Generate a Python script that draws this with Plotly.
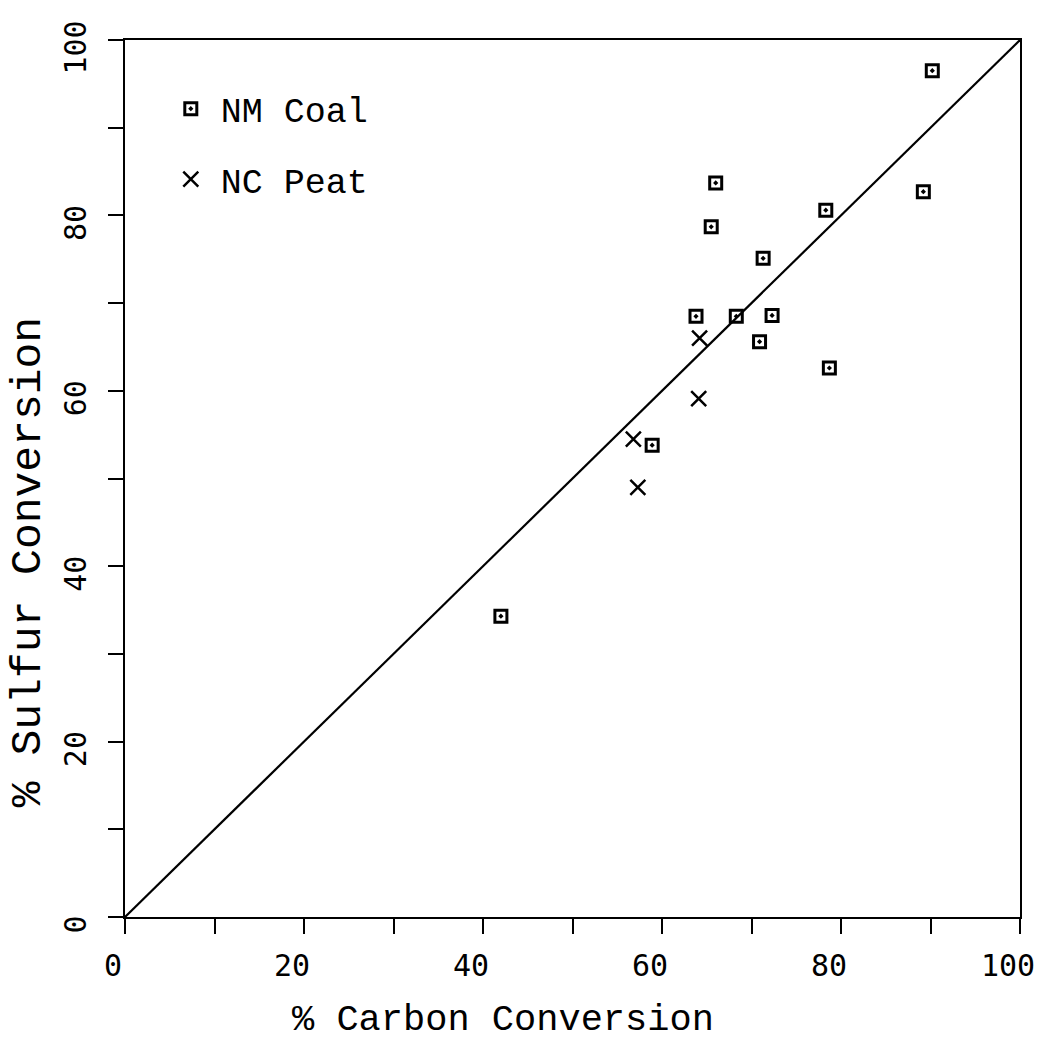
import plotly.graph_objects as go

# NM Coal data (% carbon conversion, % sulfur conversion)
coal_carbon = [90.2, 89.2, 78.3, 66.0, 65.5, 71.3, 63.8, 68.3, 72.3, 70.9, 78.7, 58.9, 42.0]
coal_sulfur = [96.5, 82.7, 80.6, 83.7, 78.7, 75.1, 68.5, 68.5, 68.6, 65.6, 62.6, 53.8, 34.3]

# NC Peat data
peat_carbon = [64.2, 64.1, 56.8, 57.3]
peat_sulfur = [66.0, 59.1, 54.5, 49.0]

# 1:1 reference line
line_x = [0, 100]
line_y = [0, 100]

tick_vals = [0, 20, 40, 60, 80, 100]
tick_text = ["0", "20", "40", "60", "80", "100"]

fig = go.Figure()

fig.add_trace(go.Scatter(
    x=line_x, y=line_y, mode="lines",
    line=dict(color="black", width=2.2),
    showlegend=False, hoverinfo="skip",
))

fig.add_trace(go.Scatter(
    x=coal_carbon, y=coal_sulfur, mode="markers", name="NM Coal",
    legendgroup="coal",
    marker=dict(symbol="square-open-dot", size=12, color="black",
                line=dict(color="black", width=3)),
))

fig.add_trace(go.Scatter(
    x=peat_carbon, y=peat_sulfur, mode="markers", name="NC Peat",
    legendgroup="peat",
    marker=dict(symbol="x-thin-open", size=15, color="black",
                line=dict(color="black", width=2.5)),
))

axis_common = dict(
    range=[0, 100],
    tickmode="array", tickvals=tick_vals, ticktext=tick_text,
    ticks="outside", ticklen=15, tickwidth=1.6, tickcolor="black",
    minor=dict(dtick=10, ticks="outside", ticklen=15, tickwidth=1.6, tickcolor="black"),
    showgrid=False, zeroline=False,
    showline=True, linecolor="black", linewidth=2.4,
    mirror=True,
    tickfont=dict(family="DejaVu Sans Mono", size=30, color="black"),
    ticklabeloverflow="allow",
    automargin=False,
)

fig.update_xaxes(**axis_common, ticklabelstandoff=6, ticklabelshift=-12)
fig.update_yaxes(**axis_common, tickangle=-90, ticklabelstandoff=10, ticklabelshift=12)

fig.add_annotation(
    text="% Carbon Conversion", xref="paper", yref="paper",
    x=0.422, y=-0.117, showarrow=False,
    font=dict(family="Liberation Mono", size=37, color="black"),
    xanchor="center", yanchor="middle",
)
fig.add_annotation(
    text="% Sulfur Conversion", xref="paper", yref="paper",
    x=-0.108, y=0.405, showarrow=False, textangle=-90,
    font=dict(family="Liberation Mono", size=43, color="black"),
    xanchor="center", yanchor="middle",
)

fig.update_layout(
    width=1060, height=1048,
    margin=dict(l=125, r=40, t=40, b=131),
    paper_bgcolor="white", plot_bgcolor="white",
    legend=dict(
        x=0.04, y=0.955, xanchor="left", yanchor="top",
        font=dict(family="Liberation Mono", size=35, color="black"),
        bgcolor="rgba(0,0,0,0)", tracegroupgap=22,
        itemwidth=50,
    ),
)

fig.write_html("out.html")
